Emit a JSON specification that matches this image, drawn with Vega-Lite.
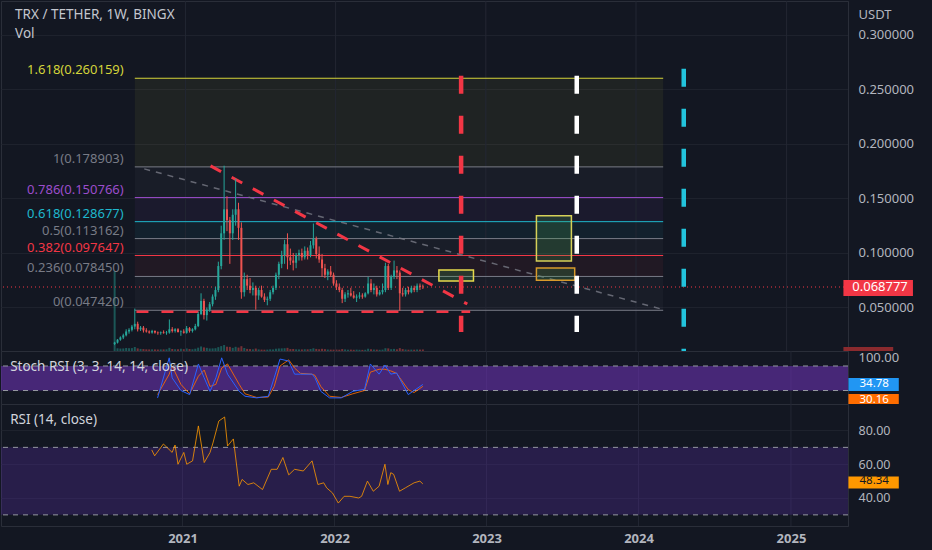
{
"$schema":"https://vega.github.io/schema/vega-lite/v6.json",
"background":"#131722",
"padding":0,
"spacing":0,
"bounds":"flush",
"config":{"view":{"stroke":"#2a2e39"},"font":"Noto Sans","axis":{"labelFont":"Noto Sans","labelColor":"#b2b5be","labelFontSize":13,"domainColor":"#2a2e39","gridColor":"#1e222d","tickColor":"#2a2e39"}},
"datasets":{
"candles":[
{"d":"2020-07-13","o":0.0165,"h":0.0185,"l":0.0155,"c":0.0178,"v":91},
{"d":"2020-07-20","o":0.0178,"h":0.021,"l":0.017,"c":0.0205,"v":3.1},
{"d":"2020-07-27","o":0.0205,"h":0.0235,"l":0.0195,"c":0.0225,"v":2.8},
{"d":"2020-08-03","o":0.0225,"h":0.026,"l":0.021,"c":0.0245,"v":2.9},
{"d":"2020-08-10","o":0.0245,"h":0.03,"l":0.0235,"c":0.028,"v":3.4},
{"d":"2020-08-17","o":0.028,"h":0.031,"l":0.026,"c":0.0295,"v":3.2},
{"d":"2020-08-24","o":0.0295,"h":0.034,"l":0.028,"c":0.0325,"v":3.3},
{"d":"2020-08-31","o":0.0325,"h":0.049,"l":0.03,"c":0.035,"v":4.6},
{"d":"2020-09-07","o":0.035,"h":0.037,"l":0.028,"c":0.03,"v":3.0},
{"d":"2020-09-14","o":0.03,"h":0.033,"l":0.0285,"c":0.0315,"v":2.4},
{"d":"2020-09-21","o":0.0315,"h":0.033,"l":0.027,"c":0.029,"v":2.2},
{"d":"2020-09-28","o":0.029,"h":0.031,"l":0.027,"c":0.028,"v":1.9},
{"d":"2020-10-05","o":0.028,"h":0.029,"l":0.026,"c":0.027,"v":1.8},
{"d":"2020-10-12","o":0.027,"h":0.0295,"l":0.026,"c":0.0285,"v":1.9},
{"d":"2020-10-19","o":0.0285,"h":0.029,"l":0.026,"c":0.027,"v":1.8},
{"d":"2020-10-26","o":0.027,"h":0.028,"l":0.025,"c":0.0265,"v":1.7},
{"d":"2020-11-02","o":0.0265,"h":0.028,"l":0.025,"c":0.0272,"v":1.8},
{"d":"2020-11-09","o":0.0272,"h":0.029,"l":0.026,"c":0.0265,"v":1.8},
{"d":"2020-11-16","o":0.0265,"h":0.0285,"l":0.025,"c":0.027,"v":1.9},
{"d":"2020-11-23","o":0.027,"h":0.039,"l":0.026,"c":0.03,"v":3.6},
{"d":"2020-11-30","o":0.03,"h":0.032,"l":0.027,"c":0.0285,"v":2.3},
{"d":"2020-12-07","o":0.0285,"h":0.031,"l":0.027,"c":0.03,"v":2.0},
{"d":"2020-12-14","o":0.03,"h":0.031,"l":0.027,"c":0.0275,"v":2.0},
{"d":"2020-12-21","o":0.0275,"h":0.029,"l":0.024,"c":0.028,"v":2.6},
{"d":"2020-12-28","o":0.028,"h":0.03,"l":0.026,"c":0.0268,"v":2.1},
{"d":"2021-01-04","o":0.0268,"h":0.033,"l":0.026,"c":0.031,"v":2.9},
{"d":"2021-01-11","o":0.031,"h":0.032,"l":0.027,"c":0.0285,"v":2.3},
{"d":"2021-01-18","o":0.0285,"h":0.031,"l":0.027,"c":0.03,"v":2.0},
{"d":"2021-01-25","o":0.03,"h":0.035,"l":0.029,"c":0.033,"v":2.6},
{"d":"2021-02-01","o":0.033,"h":0.046,"l":0.032,"c":0.044,"v":3.8},
{"d":"2021-02-08","o":0.044,"h":0.063,"l":0.043,"c":0.056,"v":5.2},
{"d":"2021-02-15","o":0.056,"h":0.058,"l":0.039,"c":0.043,"v":4.1},
{"d":"2021-02-22","o":0.043,"h":0.05,"l":0.038,"c":0.048,"v":3.6},
{"d":"2021-03-01","o":0.048,"h":0.055,"l":0.046,"c":0.053,"v":2.9},
{"d":"2021-03-08","o":0.053,"h":0.062,"l":0.051,"c":0.06,"v":3.0},
{"d":"2021-03-15","o":0.06,"h":0.069,"l":0.057,"c":0.066,"v":3.2},
{"d":"2021-03-22","o":0.066,"h":0.092,"l":0.064,"c":0.088,"v":4.4},
{"d":"2021-03-29","o":0.088,"h":0.125,"l":0.085,"c":0.118,"v":5.6},
{"d":"2021-04-05","o":0.118,"h":0.18,"l":0.112,"c":0.14,"v":6.8},
{"d":"2021-04-12","o":0.14,"h":0.152,"l":0.12,"c":0.13,"v":4.9},
{"d":"2021-04-19","o":0.13,"h":0.133,"l":0.09,"c":0.118,"v":4.7},
{"d":"2021-04-26","o":0.118,"h":0.14,"l":0.112,"c":0.135,"v":3.6},
{"d":"2021-05-03","o":0.135,"h":0.168,"l":0.125,"c":0.14,"v":4.8},
{"d":"2021-05-10","o":0.14,"h":0.146,"l":0.112,"c":0.123,"v":3.9},
{"d":"2021-05-17","o":0.123,"h":0.128,"l":0.058,"c":0.064,"v":5.5},
{"d":"2021-05-24","o":0.064,"h":0.082,"l":0.06,"c":0.076,"v":3.4},
{"d":"2021-05-31","o":0.076,"h":0.08,"l":0.066,"c":0.07,"v":2.4},
{"d":"2021-06-07","o":0.07,"h":0.077,"l":0.063,"c":0.066,"v":2.2},
{"d":"2021-06-14","o":0.066,"h":0.073,"l":0.061,"c":0.068,"v":1.9},
{"d":"2021-06-21","o":0.068,"h":0.07,"l":0.048,"c":0.061,"v":2.8},
{"d":"2021-06-28","o":0.061,"h":0.068,"l":0.057,"c":0.066,"v":1.8},
{"d":"2021-07-05","o":0.066,"h":0.07,"l":0.059,"c":0.06,"v":1.6},
{"d":"2021-07-12","o":0.06,"h":0.063,"l":0.055,"c":0.057,"v":1.5},
{"d":"2021-07-19","o":0.057,"h":0.06,"l":0.052,"c":0.058,"v":1.6},
{"d":"2021-07-26","o":0.058,"h":0.066,"l":0.056,"c":0.064,"v":1.9},
{"d":"2021-08-02","o":0.064,"h":0.07,"l":0.062,"c":0.068,"v":1.8},
{"d":"2021-08-09","o":0.068,"h":0.082,"l":0.066,"c":0.08,"v":2.6},
{"d":"2021-08-16","o":0.08,"h":0.092,"l":0.076,"c":0.09,"v":2.9},
{"d":"2021-08-23","o":0.09,"h":0.102,"l":0.086,"c":0.098,"v":3.0},
{"d":"2021-08-30","o":0.098,"h":0.112,"l":0.09,"c":0.108,"v":3.2},
{"d":"2021-09-06","o":0.108,"h":0.118,"l":0.085,"c":0.096,"v":3.6},
{"d":"2021-09-13","o":0.096,"h":0.104,"l":0.089,"c":0.093,"v":2.2},
{"d":"2021-09-20","o":0.093,"h":0.1,"l":0.084,"c":0.091,"v":2.3},
{"d":"2021-09-27","o":0.091,"h":0.1,"l":0.086,"c":0.098,"v":1.9},
{"d":"2021-10-04","o":0.098,"h":0.103,"l":0.093,"c":0.1,"v":1.8},
{"d":"2021-10-11","o":0.1,"h":0.104,"l":0.093,"c":0.096,"v":1.8},
{"d":"2021-10-18","o":0.096,"h":0.106,"l":0.094,"c":0.102,"v":2.0},
{"d":"2021-10-25","o":0.102,"h":0.105,"l":0.094,"c":0.098,"v":1.9},
{"d":"2021-11-01","o":0.098,"h":0.111,"l":0.096,"c":0.107,"v":2.3},
{"d":"2021-11-08","o":0.107,"h":0.127,"l":0.104,"c":0.113,"v":3.1},
{"d":"2021-11-15","o":0.113,"h":0.115,"l":0.095,"c":0.099,"v":2.4},
{"d":"2021-11-22","o":0.099,"h":0.106,"l":0.091,"c":0.094,"v":2.0},
{"d":"2021-11-29","o":0.094,"h":0.099,"l":0.078,"c":0.086,"v":2.5},
{"d":"2021-12-06","o":0.086,"h":0.09,"l":0.077,"c":0.08,"v":2.1},
{"d":"2021-12-13","o":0.08,"h":0.085,"l":0.075,"c":0.083,"v":1.7},
{"d":"2021-12-20","o":0.083,"h":0.088,"l":0.078,"c":0.08,"v":1.6},
{"d":"2021-12-27","o":0.08,"h":0.082,"l":0.07,"c":0.072,"v":1.6},
{"d":"2022-01-03","o":0.072,"h":0.075,"l":0.066,"c":0.069,"v":1.7},
{"d":"2022-01-10","o":0.069,"h":0.072,"l":0.064,"c":0.066,"v":1.5},
{"d":"2022-01-17","o":0.066,"h":0.068,"l":0.054,"c":0.058,"v":2.2},
{"d":"2022-01-24","o":0.058,"h":0.064,"l":0.055,"c":0.062,"v":1.8},
{"d":"2022-01-31","o":0.062,"h":0.066,"l":0.059,"c":0.063,"v":1.5},
{"d":"2022-02-07","o":0.063,"h":0.068,"l":0.06,"c":0.061,"v":1.6},
{"d":"2022-02-14","o":0.061,"h":0.065,"l":0.058,"c":0.059,"v":1.4},
{"d":"2022-02-21","o":0.059,"h":0.062,"l":0.055,"c":0.06,"v":1.6},
{"d":"2022-02-28","o":0.06,"h":0.064,"l":0.058,"c":0.061,"v":1.4},
{"d":"2022-03-07","o":0.061,"h":0.063,"l":0.058,"c":0.06,"v":1.3},
{"d":"2022-03-14","o":0.06,"h":0.064,"l":0.059,"c":0.063,"v":1.4},
{"d":"2022-03-21","o":0.063,"h":0.078,"l":0.062,"c":0.072,"v":2.6},
{"d":"2022-03-28","o":0.072,"h":0.076,"l":0.064,"c":0.066,"v":2.0},
{"d":"2022-04-04","o":0.066,"h":0.072,"l":0.062,"c":0.068,"v":1.7},
{"d":"2022-04-11","o":0.068,"h":0.07,"l":0.06,"c":0.062,"v":1.6},
{"d":"2022-04-18","o":0.062,"h":0.066,"l":0.061,"c":0.064,"v":1.4},
{"d":"2022-04-25","o":0.064,"h":0.072,"l":0.062,"c":0.066,"v":1.6},
{"d":"2022-05-02","o":0.066,"h":0.091,"l":0.064,"c":0.088,"v":3.2},
{"d":"2022-05-09","o":0.088,"h":0.09,"l":0.066,"c":0.068,"v":3.0},
{"d":"2022-05-16","o":0.068,"h":0.08,"l":0.066,"c":0.078,"v":2.1},
{"d":"2022-05-23","o":0.078,"h":0.093,"l":0.076,"c":0.084,"v":2.4},
{"d":"2022-05-30","o":0.084,"h":0.088,"l":0.076,"c":0.082,"v":1.9},
{"d":"2022-06-06","o":0.082,"h":0.084,"l":0.047,"c":0.063,"v":3.3},
{"d":"2022-06-13","o":0.063,"h":0.068,"l":0.06,"c":0.062,"v":2.2},
{"d":"2022-06-20","o":0.062,"h":0.068,"l":0.06,"c":0.066,"v":1.7},
{"d":"2022-06-27","o":0.066,"h":0.069,"l":0.062,"c":0.064,"v":1.5},
{"d":"2022-07-04","o":0.064,"h":0.07,"l":0.063,"c":0.068,"v":1.6},
{"d":"2022-07-11","o":0.068,"h":0.07,"l":0.064,"c":0.066,"v":1.5},
{"d":"2022-07-18","o":0.066,"h":0.072,"l":0.064,"c":0.07,"v":1.7},
{"d":"2022-07-25","o":0.07,"h":0.072,"l":0.066,"c":0.069,"v":1.6},
{"d":"2022-08-01","o":0.069,"h":0.071,"l":0.067,"c":0.068777,"v":1.75}
],
"rsi":[
{"d":"2020-10-19","r":68.5},{"d":"2020-10-26","r":65},{"d":"2020-11-16","r":72},{"d":"2020-12-07","r":67},{"d":"2020-12-14","r":71.4},{"d":"2020-12-21","r":60},{"d":"2021-01-04","r":67},{"d":"2021-01-11","r":60},{"d":"2021-01-25","r":62},{"d":"2021-02-08","r":82.7},{"d":"2021-02-22","r":61},{"d":"2021-03-08","r":67},{"d":"2021-03-15","r":72.6},{"d":"2021-03-29","r":85.6},{"d":"2021-04-12","r":88},{"d":"2021-04-19","r":70.8},{"d":"2021-05-03","r":75},{"d":"2021-05-17","r":47},{"d":"2021-05-24","r":51},{"d":"2021-06-07","r":48},{"d":"2021-06-21","r":49},{"d":"2021-07-12","r":45},{"d":"2021-08-02","r":57},{"d":"2021-08-16","r":57},{"d":"2021-08-30","r":64},{"d":"2021-09-13","r":53.7},{"d":"2021-09-27","r":57},{"d":"2021-10-18","r":56},{"d":"2021-11-08","r":62},{"d":"2021-11-22","r":48},{"d":"2021-12-06","r":49},{"d":"2021-12-13","r":46},{"d":"2021-12-27","r":43},{"d":"2022-01-10","r":37},{"d":"2022-01-24","r":41},{"d":"2022-02-07","r":41},{"d":"2022-02-28","r":40},{"d":"2022-03-07","r":41},{"d":"2022-03-21","r":50},{"d":"2022-04-04","r":44},{"d":"2022-04-18","r":47},{"d":"2022-05-02","r":60},{"d":"2022-05-09","r":48},{"d":"2022-05-16","r":55},{"d":"2022-05-23","r":54},{"d":"2022-06-06","r":44},{"d":"2022-06-20","r":46},{"d":"2022-07-11","r":49},{"d":"2022-07-25","r":50},{"d":"2022-08-01","r":48.34}
],
"stoch":[
{"d":"2020-11-02","k":2,"dd":10},{"d":"2020-11-30","k":100,"dd":60},{"d":"2020-12-07","k":51,"dd":80},{"d":"2020-12-28","k":20,"dd":35},{"d":"2021-01-18","k":10,"dd":12},{"d":"2021-02-08","k":85,"dd":55},{"d":"2021-02-22","k":51,"dd":70},{"d":"2021-03-08","k":18,"dd":30},{"d":"2021-03-22","k":51,"dd":35},{"d":"2021-04-05","k":100,"dd":75},{"d":"2021-04-19","k":60,"dd":85},{"d":"2021-05-17","k":18,"dd":35},{"d":"2021-05-31","k":6,"dd":12},{"d":"2021-06-28","k":2,"dd":3},{"d":"2021-07-26","k":6,"dd":4},{"d":"2021-08-09","k":51,"dd":30},{"d":"2021-08-23","k":97,"dd":80},{"d":"2021-09-13","k":92,"dd":95},{"d":"2021-09-27","k":60,"dd":75},{"d":"2021-10-11","k":60,"dd":62},{"d":"2021-11-08","k":60,"dd":60},{"d":"2021-11-15","k":51,"dd":57},{"d":"2021-11-29","k":18,"dd":30},{"d":"2021-12-20","k":2,"dd":6},{"d":"2022-01-17","k":2,"dd":3},{"d":"2022-02-14","k":18,"dd":12},{"d":"2022-03-14","k":23,"dd":20},{"d":"2022-03-28","k":85,"dd":65},{"d":"2022-04-18","k":60,"dd":72},{"d":"2022-05-02","k":82,"dd":72},{"d":"2022-05-16","k":60,"dd":68},{"d":"2022-05-30","k":63,"dd":62},{"d":"2022-06-27","k":10,"dd":22},{"d":"2022-07-11","k":20,"dd":15},{"d":"2022-08-01","k":34.78,"dd":30.16}
],
"fib":[
{"ratio":"1.618","p":0.260159,"label":"1.618(0.260159)","x1":"2020-08-31","x2":"2024-03-07","lx":"2020-08-04"},
{"ratio":"1","p":0.178903,"label":"1(0.178903)","x1":"2020-08-31","x2":"2024-03-07","lx":"2020-08-04"},
{"ratio":"0.786","p":0.150766,"label":"0.786(0.150766)","x1":"2020-08-31","x2":"2024-03-07","lx":"2020-08-04"},
{"ratio":"0.618","p":0.128677,"label":"0.618(0.128677)","x1":"2020-08-31","x2":"2024-03-07","lx":"2020-08-04"},
{"ratio":"0.5","p":0.113162,"label":"0.5(0.113162)","x1":"2020-08-31","x2":"2024-03-07","lx":"2020-08-04"},
{"ratio":"0.382","p":0.097647,"label":"0.382(0.097647)","x1":"2020-08-31","x2":"2024-03-07","lx":"2020-08-04"},
{"ratio":"0.236","p":0.07845,"label":"0.236(0.078450)","x1":"2020-08-31","x2":"2024-03-07","lx":"2020-08-04"},
{"ratio":"0","p":0.04742,"label":"0(0.047420)","x1":"2020-08-31","x2":"2024-03-07","lx":"2020-08-04"}
],
"fibzones":[
{"ratio":"1.618","top":0.260159,"bot":0.178903,"x1":"2020-08-31","x2":"2024-03-07"},
{"ratio":"1","top":0.178903,"bot":0.150766,"x1":"2020-08-31","x2":"2024-03-07"},
{"ratio":"0.786","top":0.150766,"bot":0.128677,"x1":"2020-08-31","x2":"2024-03-07"},
{"ratio":"0.618","top":0.128677,"bot":0.113162,"x1":"2020-08-31","x2":"2024-03-07"},
{"ratio":"0.5","top":0.113162,"bot":0.097647,"x1":"2020-08-31","x2":"2024-03-07"},
{"ratio":"0.382","top":0.097647,"bot":0.07845,"x1":"2020-08-31","x2":"2024-03-07"},
{"ratio":"0.236","top":0.07845,"bot":0.04742,"x1":"2020-08-31","x2":"2024-03-07"}
],
"lines":[
{"id":"grey","x1":"2020-09-23","y1":0.1771,"x2":"2024-03-02","y2":0.0486},
{"id":"res","x1":"2021-03-03","y1":0.1798,"x2":"2022-11-17","y2":0.0532},
{"id":"sup","x1":"2020-09-04","y1":0.0462,"x2":"2022-11-24","y2":0.0462}
],
"vlines":[
{"id":"red","d":"2022-11-02","top":0.2624,"bot":0.0275},
{"id":"white","d":"2023-08-10","top":0.2624,"bot":0.0275},
{"id":"cyan","d":"2024-04-26","top":0.2688,"bot":0.0101}
],
"boxes":[
{"id":"small","x1":"2022-09-09","x2":"2022-12-02","top":0.0844,"bot":0.0743},
{"id":"big","x1":"2023-05-04","x2":"2023-07-28","top":0.134,"bot":0.0927},
{"id":"orange","x1":"2023-05-04","x2":"2023-08-05","top":0.0862,"bot":0.075}
],
"years":[{"d":"2021-01-01"},{"d":"2022-01-01"},{"d":"2023-01-01"},{"d":"2024-01-01"},{"d":"2025-01-01"}],
"ann":[{"t":"TRX / TETHER, 1W, BINGX","d":"2019-11-14","p":0.3182},{"t":"Vol","d":"2019-11-14","p":0.3012}],
"plabel":[{"t":"0.068777","x1":"2025-05-19","x2":"2025-11-04","tx":"2025-08-16","p":0.068777,"top":0.0752,"bot":0.0606}],
"vlabel":[{"t":"1.75B","x1":"2025-05-19","x2":"2025-09-17","top":0.0138,"bot":0.0101}],
"slabel":[
{"id":"k","t":"34.78","x1":"2025-05-19","x2":"2025-09-17","tx":"2025-07-20","ty":34.78,"top":50.5,"bot":18.7},
{"id":"d","t":"30.16","x1":"2025-05-19","x2":"2025-09-17","tx":"2025-07-20","ty":-3,"top":11.3,"bot":-13}
],
"rlabel":[{"t":"48.34","x1":"2025-05-19","x2":"2025-09-17","tx":"2025-07-20","ty":49.8,"top":52.8,"bot":45.6}],
"panes":[{"pane":"stoch","t":"Stoch RSI (3, 3, 14, 14, close)","d":"2019-11-14","v":77.5},{"pane":"rsi","t":"RSI (14, close)","d":"2019-11-14","v":86.2}],
"levels":[{"pane":"stoch","v":80},{"pane":"stoch","v":20},{"pane":"rsi","v":70},{"pane":"rsi","v":30}],
"bands":[{"pane":"stoch","top":80,"bot":20},{"pane":"rsi","top":70,"bot":30}]
},
"vconcat":[
{
"width":847,"height":350,
"layer":[
{"data":{"name":"candles"},"mark":{"type":"bar","size":2,"opacity":0.45},
 "encoding":{
  "x":{"field":"d","type":"temporal","scale":{"type":"utc","domain":[{"year":2019,"month":10,"date":23,"utc":true},{"year":2025,"month":5,"date":18,"utc":true}]},"axis":null},
  "y":{"field":"v","type":"quantitative","scale":{"domain":[0,400],"nice":false},"axis":null},
  "color":{"condition":{"test":"datum.c >= datum.o","value":"#26a69a"},"value":"#ef5350"}}},
{"layer":[
 {"data":{"name":"fibzones"},"mark":{"type":"rect","opacity":0.065},
  "encoding":{
   "x":{"field":"x1","type":"temporal","scale":{"type":"utc","domain":[{"year":2019,"month":10,"date":23,"utc":true},{"year":2025,"month":5,"date":18,"utc":true}]},"axis":null},
   "x2":{"field":"x2"},
   "y":{"field":"top","type":"quantitative","scale":{"domain":[0.0101,0.331],"zero":false,"nice":false},
     "axis":{"orient":"right","values":[0.05,0.1,0.15,0.2,0.25,0.3],"format":".6f","grid":true,"gridColor":"#1e222d","ticks":false,"labelPadding":10,"labelColor":"#b2b5be","labelFontSize":13,"domain":true,"domainColor":"#2a2e39","title":"USDT","titleAngle":0,"titleAlign":"left","titleBaseline":"middle","titleX":10,"titleY":13,"titleColor":"#b2b5be","titleFontSize":13,"titleFontWeight":"normal","titleFont":"Noto Sans","minExtent":85,"maxExtent":85}},
   "y2":{"field":"bot"},
   "fill":{"field":"ratio","type":"nominal","scale":{"domain":["1.618","1","0.786","0.618","0.5","0.382","0.236","0"],"range":["#d4d43a","#787b86","#9c4dcc","#1fb8cd","#787b86","#f23645","#787b86","#787b86"]},"legend":null}}},
 {"data":{"name":"years"},"mark":{"type":"rule","color":"#232733","strokeWidth":1},
  "encoding":{"x":{"field":"d","type":"temporal","axis":null}}},
 {"data":{"name":"fib"},"mark":{"type":"rule","strokeWidth":1},
  "encoding":{
   "x":{"field":"x1","type":"temporal","axis":null},"x2":{"field":"x2"},
   "y":{"field":"p","type":"quantitative"},
   "color":{"field":"ratio","type":"nominal","scale":{"domain":["1.618","1","0.786","0.618","0.5","0.382","0.236","0"],"range":["#d4d43a","#787b86","#9c4dcc","#1fb8cd","#787b86","#f23645","#787b86","#787b86"]},"legend":null}}},
 {"data":{"name":"fib"},"mark":{"type":"text","align":"right","baseline":"bottom","dy":-1,"fontSize":13},
  "encoding":{
   "x":{"field":"lx","type":"temporal","axis":null},
   "y":{"field":"p","type":"quantitative"},
   "text":{"field":"label"},
   "color":{"field":"ratio","type":"nominal","scale":{"domain":["1.618","1","0.786","0.618","0.5","0.382","0.236","0"],"range":["#d4d43a","#787b86","#9c4dcc","#1fb8cd","#787b86","#f23645","#787b86","#787b86"]},"legend":null}}},
 {"data":{"name":"lines"},"transform":[{"filter":"datum.id === 'grey'"}],"mark":{"type":"rule","color":"#787b86","strokeWidth":1.5,"strokeDash":[6,6],"opacity":0.8},
  "encoding":{"x":{"field":"x1","type":"temporal","axis":null},"x2":{"field":"x2"},"y":{"field":"y1","type":"quantitative"},"y2":{"field":"y2"}}},
 {"data":{"name":"boxes"},"transform":[{"filter":"datum.id === 'small'"}],"mark":{"type":"rect","fill":"#4caf50","fillOpacity":0.2,"stroke":"#e6da4c","strokeWidth":1.5},
  "encoding":{"x":{"field":"x1","type":"temporal","axis":null},"x2":{"field":"x2"},"y":{"field":"top","type":"quantitative"},"y2":{"field":"bot"}}},
 {"data":{"name":"boxes"},"transform":[{"filter":"datum.id === 'big'"}],"mark":{"type":"rect","fill":"#4caf50","fillOpacity":0.2,"stroke":"#d6d058","strokeWidth":1.5},
  "encoding":{"x":{"field":"x1","type":"temporal","axis":null},"x2":{"field":"x2"},"y":{"field":"top","type":"quantitative"},"y2":{"field":"bot"}}},
 {"data":{"name":"boxes"},"transform":[{"filter":"datum.id === 'orange'"}],"mark":{"type":"rect","fill":"#4caf50","fillOpacity":0.2,"stroke":"#d89a2b","strokeWidth":1.5},
  "encoding":{"x":{"field":"x1","type":"temporal","axis":null},"x2":{"field":"x2"},"y":{"field":"top","type":"quantitative"},"y2":{"field":"bot"}}},
 {"data":{"name":"plabel"},"mark":{"type":"rule","color":"#f23645","strokeDash":[1,3],"strokeWidth":1},
  "encoding":{"y":{"field":"p","type":"quantitative"}}},
 {"data":{"name":"lines"},"transform":[{"filter":"datum.id === 'res'"}],"mark":{"type":"rule","color":"#f23645","strokeWidth":3,"strokeDash":[12,12]},
  "encoding":{"x":{"field":"x1","type":"temporal","axis":null},"x2":{"field":"x2"},"y":{"field":"y1","type":"quantitative"},"y2":{"field":"y2"}}},
 {"data":{"name":"lines"},"transform":[{"filter":"datum.id === 'sup'"}],"mark":{"type":"rule","color":"#f23645","strokeWidth":2.5,"strokeDash":[12,13]},
  "encoding":{"x":{"field":"x1","type":"temporal","axis":null},"x2":{"field":"x2"},"y":{"field":"y1","type":"quantitative"},"y2":{"field":"y2"}}},
 {"data":{"name":"vlines"},"transform":[{"filter":"datum.id === 'red'"}],"mark":{"type":"rule","color":"#f23645","strokeWidth":4.5,"strokeDash":[18,22]},
  "encoding":{"x":{"field":"d","type":"temporal","axis":null},"y":{"field":"top","type":"quantitative"},"y2":{"field":"bot"}}},
 {"data":{"name":"vlines"},"transform":[{"filter":"datum.id === 'white'"}],"mark":{"type":"rule","color":"#ffffff","strokeWidth":4.5,"strokeDash":[18,22]},
  "encoding":{"x":{"field":"d","type":"temporal","axis":null},"y":{"field":"top","type":"quantitative"},"y2":{"field":"bot"}}},
 {"data":{"name":"vlines"},"transform":[{"filter":"datum.id === 'cyan'"}],"mark":{"type":"rule","color":"#22c3dc","strokeWidth":4.5,"strokeDash":[18,22]},
  "encoding":{"x":{"field":"d","type":"temporal","axis":null},"y":{"field":"top","type":"quantitative"},"y2":{"field":"bot"}}},
 {"data":{"name":"candles"},"mark":{"type":"rule","strokeWidth":1},
  "encoding":{"x":{"field":"d","type":"temporal","axis":null},"y":{"field":"l","type":"quantitative"},"y2":{"field":"h"},
   "color":{"condition":{"test":"datum.c >= datum.o","value":"#26a69a"},"value":"#ef5350"}}},
 {"data":{"name":"candles"},"mark":{"type":"bar","size":2},
  "encoding":{"x":{"field":"d","type":"temporal","axis":null},"y":{"field":"o","type":"quantitative"},"y2":{"field":"c"},
   "color":{"condition":{"test":"datum.c >= datum.o","value":"#26a69a"},"value":"#ef5350"}}},
 {"data":{"name":"ann"},"mark":{"type":"text","align":"left","baseline":"middle","fontSize":13.5,"color":"#c3c6ce"},
  "encoding":{"x":{"field":"d","type":"temporal","axis":null},"y":{"field":"p","type":"quantitative"},"text":{"field":"t"}}},
 {"data":{"name":"plabel"},"mark":{"type":"rect","color":"#f23645"},
  "encoding":{"x":{"field":"x1","type":"temporal","axis":null},"x2":{"field":"x2"},"y":{"field":"top","type":"quantitative"},"y2":{"field":"bot"}}},
 {"data":{"name":"plabel"},"mark":{"type":"text","color":"#ffffff","fontSize":13,"align":"center","baseline":"middle"},
  "encoding":{"x":{"field":"tx","type":"temporal","axis":null},"y":{"field":"p","type":"quantitative"},"text":{"field":"t"}}},
 {"data":{"name":"vlabel"},"mark":{"type":"rect","color":"#8a2a2e"},
  "encoding":{"x":{"field":"x1","type":"temporal","axis":null},"x2":{"field":"x2"},"y":{"field":"top","type":"quantitative"},"y2":{"field":"bot"}}}
]}
],
"resolve":{"scale":{"y":"independent"}}
},
{
"width":847,"height":53,
"layer":[
 {"data":{"name":"stoch"},"mark":{"type":"line","color":"#2962ff","strokeWidth":1,"opacity":0},
  "encoding":{"x":{"field":"d","type":"temporal","scale":{"type":"utc","domain":[{"year":2019,"month":10,"date":23,"utc":true},{"year":2025,"month":5,"date":18,"utc":true}]},"axis":null},
   "y":{"field":"k","type":"quantitative","scale":{"domain":[-13,116.7],"zero":false,"nice":false},"axis":{"orient":"right","values":[100],"format":".2f","grid":false,"ticks":false,"labelPadding":10,"domain":true,"domainColor":"#2a2e39","title":null,"minExtent":85,"maxExtent":85,"labelColor":"#b2b5be","labelFontSize":13}}}},
 {"data":{"name":"years"},"mark":{"type":"rule","color":"#232733","strokeWidth":1},
  "encoding":{"x":{"field":"d","type":"temporal","axis":null}}},
 {"data":{"name":"bands"},"transform":[{"filter":"datum.pane === 'stoch'"}],"mark":{"type":"rect","color":"#6a32b0","opacity":0.6},
  "encoding":{"y":{"field":"top","type":"quantitative"},"y2":{"field":"bot"}}},
 {"data":{"name":"levels"},"transform":[{"filter":"datum.pane === 'stoch'"}],"mark":{"type":"rule","color":"#9598a1","strokeDash":[5,5],"strokeWidth":1},
  "encoding":{"y":{"field":"v","type":"quantitative"}}},
 {"data":{"name":"stoch"},"mark":{"type":"line","color":"#ff6d00","strokeWidth":1,"opacity":0.85},
  "encoding":{"x":{"field":"d","type":"temporal","axis":null},"y":{"field":"dd","type":"quantitative"}}},
 {"data":{"name":"stoch"},"mark":{"type":"line","color":"#2962ff","strokeWidth":1},
  "encoding":{"x":{"field":"d","type":"temporal","axis":null},"y":{"field":"k","type":"quantitative"}}},
 {"data":{"name":"panes"},"transform":[{"filter":"datum.pane === 'stoch'"}],"mark":{"type":"text","align":"left","baseline":"middle","fontSize":13.5,"color":"#d1d4dc"},
  "encoding":{"x":{"field":"d","type":"temporal","axis":null},"y":{"field":"v","type":"quantitative"},"text":{"field":"t"}}},
 {"data":{"name":"slabel"},"transform":[{"filter":"datum.id === 'k'"}],"mark":{"type":"rect","color":"#2196f3"},
  "encoding":{"x":{"field":"x1","type":"temporal","axis":null},"x2":{"field":"x2"},"y":{"field":"top","type":"quantitative"},"y2":{"field":"bot"}}},
 {"data":{"name":"slabel"},"transform":[{"filter":"datum.id === 'd'"}],"mark":{"type":"rect","color":"#ff6d00"},
  "encoding":{"x":{"field":"x1","type":"temporal","axis":null},"x2":{"field":"x2"},"y":{"field":"top","type":"quantitative"},"y2":{"field":"bot"}}},
 {"data":{"name":"slabel"},"mark":{"type":"text","color":"#ffffff","fontSize":11.5,"align":"center","baseline":"middle"},
  "encoding":{"x":{"field":"tx","type":"temporal","axis":null},"y":{"field":"ty","type":"quantitative"},"text":{"field":"t"}}}
]
},
{
"width":847,"height":122,
"layer":[
 {"data":{"name":"rsi"},"mark":{"type":"line","color":"#ff9800","strokeWidth":1,"opacity":0},
  "encoding":{
   "x":{"field":"d","type":"temporal","scale":{"type":"utc","domain":[{"year":2019,"month":10,"date":23,"utc":true},{"year":2025,"month":5,"date":18,"utc":true}]},"axis":{"values":[{"year":2021,"month":1,"date":1,"utc":true},{"year":2022,"month":1,"date":1,"utc":true},{"year":2023,"month":1,"date":1,"utc":true},{"year":2024,"month":1,"date":1,"utc":true},{"year":2025,"month":1,"date":1,"utc":true}],"format":"%Y","labelColor":"#b2b5be","labelFontSize":13,"labelFontWeight":"bold","ticks":false,"domain":false,"grid":false,"labelPadding":6,"title":null,"minExtent":25,"maxExtent":25}},
   "y":{"field":"r","type":"quantitative","scale":{"domain":[23.4,95.7],"zero":false,"nice":false},"axis":{"orient":"right","values":[40,60,80],"format":".2f","grid":true,"gridColor":"#1e222d","ticks":false,"labelPadding":10,"domain":true,"domainColor":"#2a2e39","title":null,"minExtent":85,"maxExtent":85,"labelColor":"#b2b5be","labelFontSize":12.5}}}},
 {"data":{"name":"years"},"mark":{"type":"rule","color":"#232733","strokeWidth":1},
  "encoding":{"x":{"field":"d","type":"temporal"}}},
 {"data":{"name":"bands"},"transform":[{"filter":"datum.pane === 'rsi'"}],"mark":{"type":"rect","color":"#5b2fa8","opacity":0.3},
  "encoding":{"y":{"field":"top","type":"quantitative"},"y2":{"field":"bot"}}},
 {"data":{"name":"levels"},"transform":[{"filter":"datum.pane === 'rsi'"}],"mark":{"type":"rule","color":"#9598a1","strokeDash":[5,5],"strokeWidth":1},
  "encoding":{"y":{"field":"v","type":"quantitative"}}},
 {"data":{"name":"rsi"},"mark":{"type":"line","color":"#ff9800","strokeWidth":1,"opacity":0.8},
  "encoding":{"x":{"field":"d","type":"temporal"},"y":{"field":"r","type":"quantitative"}}},
 {"data":{"name":"panes"},"transform":[{"filter":"datum.pane === 'rsi'"}],"mark":{"type":"text","align":"left","baseline":"middle","fontSize":13.5,"color":"#d1d4dc"},
  "encoding":{"x":{"field":"d","type":"temporal"},"y":{"field":"v","type":"quantitative"},"text":{"field":"t"}}},
 {"data":{"name":"rlabel"},"mark":{"type":"rect","color":"#ff9800"},
  "encoding":{"x":{"field":"x1","type":"temporal"},"x2":{"field":"x2"},"y":{"field":"top","type":"quantitative"},"y2":{"field":"bot"}}},
 {"data":{"name":"rlabel"},"mark":{"type":"text","color":"#131722","fontSize":11.5,"align":"center","baseline":"middle"},
  "encoding":{"x":{"field":"tx","type":"temporal"},"y":{"field":"ty","type":"quantitative"},"text":{"field":"t"}}}
]
}
]
}
